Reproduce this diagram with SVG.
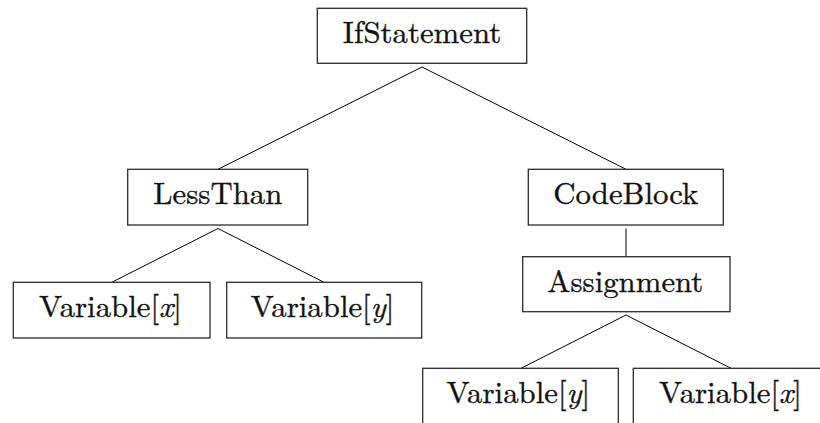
<svg xmlns="http://www.w3.org/2000/svg" width="820" height="423" viewBox="0 0 820 423">
  <style>
    .box { fill: #ffffff; stroke: #2a2a2a; stroke-width: 1.3; }
    .edge { stroke: #000000; stroke-width: 1; fill: none; }
    .lbl { font-family: "Latin Modern Roman", "Liberation Serif", serif; font-size: 30.8px; fill: #111111; stroke: #111111; stroke-width: 0.35; text-anchor: middle; }
    .var { font-style: italic; }
  </style>
  <rect width="820" height="423" fill="#ffffff"/>

  <!-- tree edges -->
  <g id="edges">
    <line class="edge" x1="422" y1="67" x2="218" y2="169.3"/>
    <line class="edge" x1="422" y1="67" x2="626" y2="169.3"/>
    <line class="edge" x1="218" y1="228.5" x2="111.7" y2="282.3"/>
    <line class="edge" x1="218" y1="228.5" x2="324" y2="282.3"/>
    <line class="edge" x1="626" y1="228.5" x2="626" y2="256.7"/>
    <line class="edge" x1="626" y1="315" x2="521" y2="368.3"/>
    <line class="edge" x1="626" y1="315" x2="731" y2="368.3"/>
  </g>

  <g id="ifstatement">
    <rect class="box" x="317.3" y="8.3" width="209.4" height="55"/>
    <text class="lbl" x="422" y="43.4">IfStatement</text>
  </g>

  <g id="lessthan">
    <rect class="box" x="127.7" y="169.3" width="180" height="55.7"/>
    <text class="lbl" x="217.8" y="204.4">LessThan</text>
  </g>

  <g id="codeblock">
    <rect class="box" x="528.3" y="169.3" width="195" height="55.7"/>
    <text class="lbl" x="625.8" y="204.4">CodeBlock</text>
  </g>

  <g id="var-x-left">
    <rect class="box" x="13.3" y="282.3" width="196.7" height="55.7"/>
    <text class="lbl" x="110.5" y="317.3">Variable[<tspan class="var">x</tspan>]</text>
  </g>

  <g id="var-y-left">
    <rect class="box" x="226.7" y="282.3" width="195" height="55.7"/>
    <text class="lbl" x="322.5" y="317.3">Variable[<tspan class="var">y</tspan>]</text>
  </g>

  <g id="assignment">
    <rect class="box" x="522.7" y="256.7" width="207.3" height="55"/>
    <text class="lbl" x="625.3" y="291.8">Assignment</text>
  </g>

  <g id="var-y-right">
    <rect class="box" x="422.7" y="368.3" width="195.6" height="56"/>
    <text class="lbl" x="518.3" y="403.4">Variable[<tspan class="var">y</tspan>]</text>
  </g>

  <g id="var-x-right">
    <rect class="box" x="633.3" y="368.3" width="196" height="56"/>
    <text class="lbl" x="730.5" y="403.4">Variable[<tspan class="var">x</tspan>]</text>
  </g>
</svg>
